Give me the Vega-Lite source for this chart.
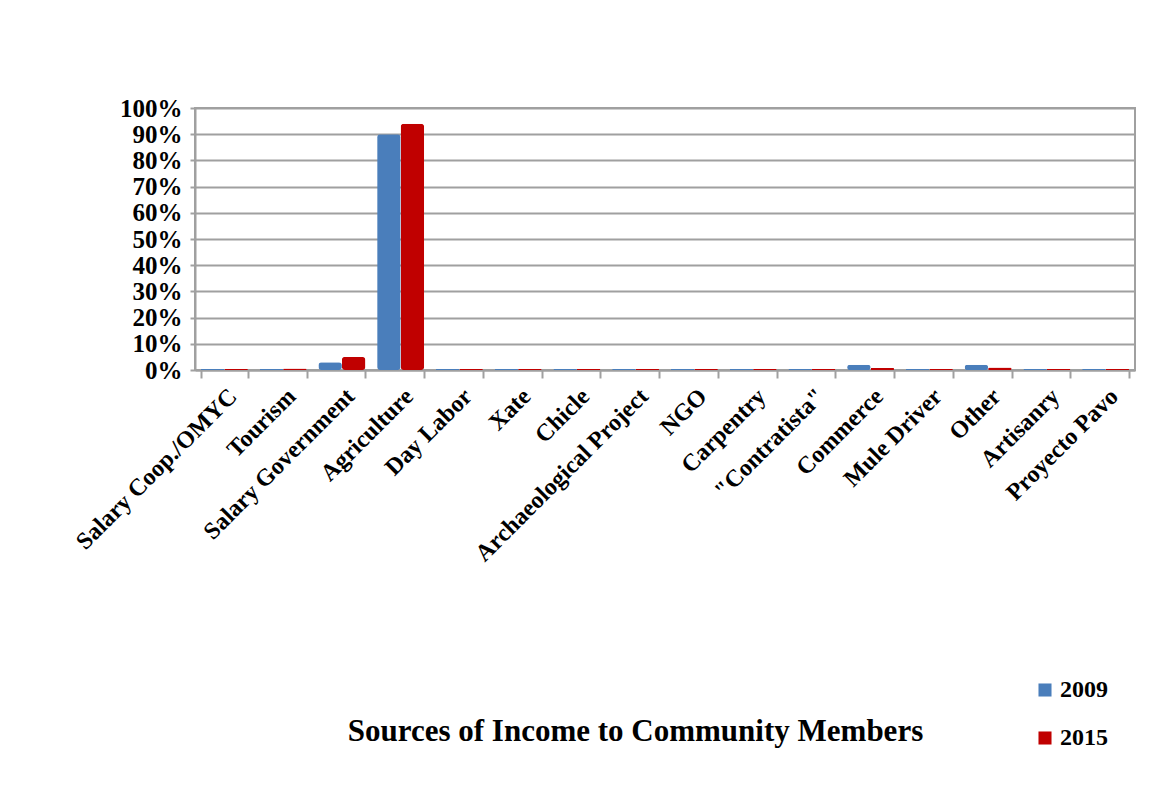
{
  "$schema": "https://vega.github.io/schema/vega-lite/v6.json",
  "autosize": "none",
  "width": 940,
  "height": 262,
  "padding": {"left": 195, "top": 108, "right": 36, "bottom": 426},
  "background": "white",
  "config": {
    "font": "Liberation Serif",
    "view": {"stroke": "#a0a0a0", "strokeWidth": 2}
  },
  "data": {
    "values": [
      {"source": "Salary Coop./OMYC", "year": "2009", "share": 0.004},
      {"source": "Salary Coop./OMYC", "year": "2015", "share": 0.004},
      {"source": "Tourism", "year": "2009", "share": 0.004},
      {"source": "Tourism", "year": "2015", "share": 0.006},
      {"source": "Salary Government", "year": "2009", "share": 0.03},
      {"source": "Salary Government", "year": "2015", "share": 0.05},
      {"source": "Agriculture", "year": "2009", "share": 0.9},
      {"source": "Agriculture", "year": "2015", "share": 0.94},
      {"source": "Day Labor", "year": "2009", "share": 0.004},
      {"source": "Day Labor", "year": "2015", "share": 0.004},
      {"source": "Xate", "year": "2009", "share": 0.004},
      {"source": "Xate", "year": "2015", "share": 0.004},
      {"source": "Chicle", "year": "2009", "share": 0.004},
      {"source": "Chicle", "year": "2015", "share": 0.004},
      {"source": "Archaeological Project", "year": "2009", "share": 0.004},
      {"source": "Archaeological Project", "year": "2015", "share": 0.004},
      {"source": "NGO", "year": "2009", "share": 0.004},
      {"source": "NGO", "year": "2015", "share": 0.004},
      {"source": "Carpentry", "year": "2009", "share": 0.004},
      {"source": "Carpentry", "year": "2015", "share": 0.004},
      {"source": "\"Contratista\"", "year": "2009", "share": 0.004},
      {"source": "\"Contratista\"", "year": "2015", "share": 0.004},
      {"source": "Commerce", "year": "2009", "share": 0.02},
      {"source": "Commerce", "year": "2015", "share": 0.008},
      {"source": "Mule Driver", "year": "2009", "share": 0.004},
      {"source": "Mule Driver", "year": "2015", "share": 0.004},
      {"source": "Other", "year": "2009", "share": 0.02},
      {"source": "Other", "year": "2015", "share": 0.01},
      {"source": "Artisanry", "year": "2009", "share": 0.004},
      {"source": "Artisanry", "year": "2015", "share": 0.004},
      {"source": "Proyecto Pavo", "year": "2009", "share": 0.004},
      {"source": "Proyecto Pavo", "year": "2015", "share": 0.004}
    ]
  },
  "mark": {"type": "bar", "cornerRadius": 3},
  "encoding": {
    "x": {
      "field": "source",
      "type": "nominal",
      "sort": null,
      "scale": {"paddingInner": 0.2, "paddingOuter": 0.1},
      "axis": {
        "labelAngle": -45,
        "labelFont": "Liberation Serif",
        "labelFontWeight": "bold",
        "labelFontSize": 24,
        "labelColor": "black",
        "labelPadding": 6,
        "labelLimit": 400,
        "labelOverlap": false,
        "domainColor": "#a0a0a0",
        "domainWidth": 2,
        "tickColor": "#a0a0a0",
        "tickWidth": 2,
        "tickSize": 8,
        "tickBand": "extent",
        "title": "Sources of Income to Community Members",
        "titleFont": "Liberation Serif",
        "titleFontWeight": "bold",
        "titleFontSize": 31,
        "titleColor": "black",
        "titleX": 440,
        "titleY": 346
      }
    },
    "xOffset": {"field": "year", "type": "nominal"},
    "y": {
      "field": "share",
      "type": "quantitative",
      "scale": {"domain": [0, 1]},
      "axis": {
        "format": ".0%",
        "values": [0, 0.1, 0.2, 0.3, 0.4, 0.5, 0.6, 0.7, 0.8, 0.9, 1],
        "labelOverlap": false,
        "labelFont": "Liberation Serif",
        "labelFontWeight": "bold",
        "labelFontSize": 25,
        "labelColor": "black",
        "labelPadding": 8,
        "domainColor": "#a0a0a0",
        "domainWidth": 2,
        "tickColor": "#a0a0a0",
        "tickWidth": 2,
        "gridColor": "#a0a0a0",
        "gridWidth": 2,
        "title": null
      }
    },
    "color": {
      "field": "year",
      "type": "nominal",
      "scale": {"domain": ["2009", "2015"], "range": ["#4a7ebb", "#c00000"]},
      "legend": {
        "orient": "none",
        "legendX": 838,
        "legendY": 570,
        "title": null,
        "symbolType": "square",
        "symbolSize": 170,
        "symbolStrokeWidth": 0,
        "labelFont": "Liberation Serif",
        "labelFontWeight": "bold",
        "labelFontSize": 24,
        "labelColor": "black",
        "labelOffset": 3,
        "rowPadding": 24
      }
    }
  }
}
